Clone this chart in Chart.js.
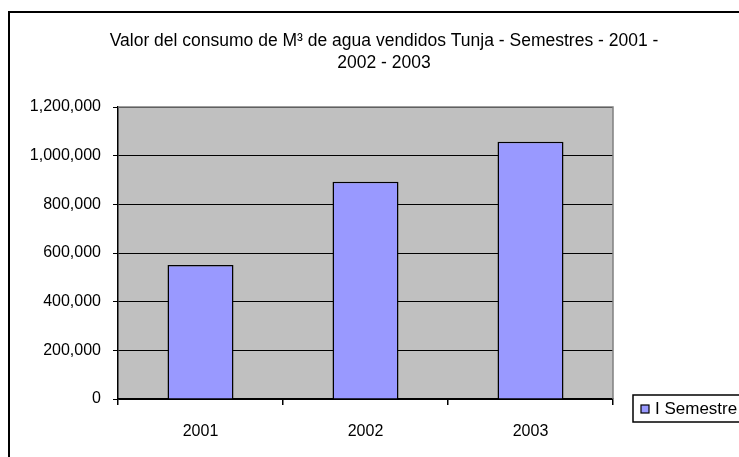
<!DOCTYPE html>
<html>
<head>
<meta charset="utf-8">
<script src="https://cdn.jsdelivr.net/npm/chart.js@4.4.0/dist/chart.umd.min.js"></script>
<style>
  html, body { margin: 0; padding: 0; background: #fff; }
  #wrap { width: 739px; height: 457px; }
</style>
</head>
<body>
<div id="wrap"><canvas id="grafico" width="739" height="457"></canvas></div>
<script>
/* datos */
const anios = ['2001', '2002', '2003'];
const semestreI = [551000, 893000, 1057000];
const serieNombre = 'I Semestre';
const tituloLineas = ['Valor del consumo de M³ de agua vendidos Tunja - Semestres - 2001 -', '2002 - 2003'];
const ejeY = { min: 0, max: 1200000, paso: 200000 };

const fuente = '"Liberation Sans", Arial, sans-serif';

// marco, fondo gris del area, titulo y leyenda estilo Excel
const estiloExcel = {
  id: 'estiloExcel',
  beforeDraw(chart) {
    const { ctx, chartArea: a } = chart;
    ctx.save();
    ctx.fillStyle = '#C0C0C0';
    ctx.fillRect(a.left, a.top, a.right - a.left, a.bottom - a.top);
    ctx.restore();
  },
  afterDraw(chart) {
    const { ctx, chartArea: a } = chart;
    ctx.save();
    // borde gris arriba y derecha
    ctx.strokeStyle = '#808080';
    ctx.lineWidth = 1.5;
    ctx.beginPath();
    ctx.moveTo(a.left, a.top);
    ctx.lineTo(a.right, a.top);
    ctx.lineTo(a.right, a.bottom);
    ctx.stroke();

    // marco exterior
    ctx.strokeStyle = '#000';
    ctx.lineWidth = 2;
    ctx.strokeRect(9, 12, 800, 500);

    // titulo
    ctx.fillStyle = '#000';
    ctx.font = '17.5px ' + fuente;
    ctx.textAlign = 'center';
    ctx.textBaseline = 'middle';
    tituloLineas.forEach((t, i) => ctx.fillText(t, 384, 41 + i * 22));

    // leyenda
    ctx.fillStyle = '#fff';
    ctx.fillRect(633, 395, 200, 27);
    ctx.lineWidth = 1.5;
    ctx.strokeRect(633, 395, 200, 27);
    ctx.fillStyle = chart.data.datasets[0].backgroundColor;
    ctx.fillRect(641, 405, 8, 8);
    ctx.lineWidth = 1.2;
    ctx.strokeRect(641, 405, 8, 8);
    ctx.fillStyle = '#000';
    ctx.textAlign = 'left';
    ctx.font = '17px ' + fuente;
    ctx.fillText(chart.data.datasets[0].label, 655, 409);
    ctx.restore();
  }
};

const ctx = document.getElementById('grafico').getContext('2d');

new Chart(ctx, {
  type: 'bar',
  data: {
    labels: anios,
    datasets: [{
      label: serieNombre,
      data: semestreI,
      backgroundColor: '#9999FF',
      borderColor: '#000',
      borderWidth: 1.5,
      categoryPercentage: 1,
      barPercentage: 0.4
    }]
  },
  options: {
    responsive: false,
    animation: false,
    devicePixelRatio: 1,
    layout: { padding: { left: 0, top: 107, right: 126, bottom: 0 } },
    scales: {
      y: {
        min: ejeY.min,
        max: ejeY.max,
        ticks: {
          stepSize: ejeY.paso,
          color: '#000',
          padding: 12,
          font: { family: fuente, size: 16 },
          callback: v => v.toLocaleString('en-US')
        },
        grid: { color: '#000', lineWidth: 1, tickLength: 5, tickColor: '#000' },
        border: { color: '#000', width: 1.5 },
        afterFit(scale) { scale.width = 118; }
      },
      x: {
        ticks: {
          color: '#000',
          padding: 17,
          font: { family: fuente, size: 16 }
        },
        grid: { offset: true, drawOnChartArea: false, tickLength: 6, tickColor: '#000', lineWidth: 1.5 },
        border: { color: '#000', width: 1.5 },
        afterFit(scale) { scale.height = 58; }
      }
    },
    plugins: {
      legend: { display: false },
      title: { display: false },
      tooltip: { enabled: false }
    }
  },
  plugins: [estiloExcel]
});
</script>
</body>
</html>
